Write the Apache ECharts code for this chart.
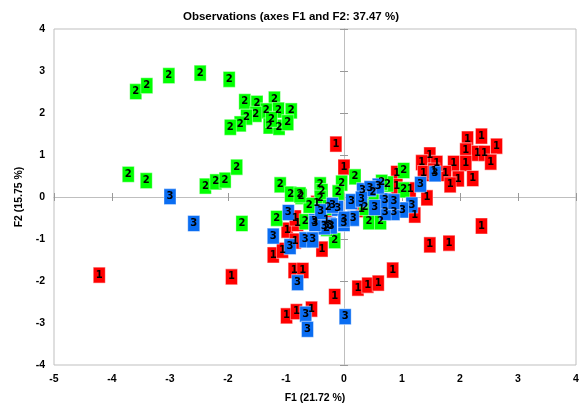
<!DOCTYPE html>
<html><head><meta charset="utf-8">
<script src="https://cdn.jsdelivr.net/npm/echarts@6/dist/echarts.min.js"></script>
<style>html,body{margin:0;padding:0;background:#fff}#c{width:582px;height:409px}</style>
</head><body><div id="c"></div>
<script>
// Class 1 (red) observations [F1, F2]
const class1 = [
  [-4.22,-1.86],[-1.94,-1.90],[-1.22,-1.38],[-1.06,-1.27],[-0.98,-0.79],[-0.80,-0.63],
  [-0.84,-1.05],[-0.38,-1.24],[-0.86,-1.75],[-0.71,-1.75],[-0.16,-2.37],[-0.99,-2.83],
  [-0.82,-2.73],[-0.56,-2.67],[-0.14,1.26],[0.0,0.71],[0.91,0.56],[0.91,0.25],[1.14,0.17],
  [2.13,1.38],[2.37,1.45],[2.63,1.21],[2.10,1.10],[2.30,1.04],[2.42,1.04],[2.53,0.83],
  [1.48,1.00],[1.34,0.82],[1.89,0.80],[2.10,0.80],[1.75,0.56],[1.97,0.43],[2.22,0.44],
  [1.83,0.29],[1.37,0.56],[1.43,-0.02],[2.37,-0.69],[1.48,-1.14],[1.81,-1.10],
  [-0.47,-0.15],[-0.84,-0.50],[0.24,-2.17],[0.41,-2.10],[0.59,-2.05],[0.84,-1.74],
  [1.22,-0.43],[1.60,0.80],[1.55,0.62],[0.30,-0.30],[-0.30,-0.55]
];
// Class 2 (green) observations
const class2 = [
  [-3.59,2.51],[-3.40,2.65],[-3.02,2.89],[-2.48,2.95],[-1.98,2.80],[-1.71,2.27],[-1.50,2.23],
  [-1.20,2.33],[-1.34,2.05],[-1.13,2.07],[-0.91,2.05],[-1.52,1.97],[-1.68,1.90],[-1.79,1.74],
  [-1.96,1.66],[-1.29,1.69],[-1.12,1.66],[-0.97,1.77],[-1.25,1.85],
  [-3.72,0.54],[-3.41,0.39],[-2.39,0.26],[-2.21,0.36],[-2.05,0.40],[-1.85,0.71],
  [-1.10,0.29],[-0.92,0.07],[-0.74,0.01],[-1.76,-0.63],[-1.16,-0.51],
  [-0.41,0.29],[-0.38,0.13],[-0.41,-0.03],[-0.04,0.33],[0.19,0.48],[-0.10,0.10],
  [1.03,0.63],[1.03,0.17],[0.75,0.31],[0.43,-0.59],[0.63,-0.59],[0.36,-0.25],
  [-0.27,-0.25],[-0.16,-1.04],[-0.67,-0.59],[0.50,0.10],[0.65,0.35],[-0.60,-0.20],
  [-0.30,-0.75],[-0.76,0.05]
];
// Class 3 (blue) observations
const class3 = [
  [-3.0,0.01],[-2.59,-0.63],[-1.22,-0.93],[-0.93,-1.18],[-0.96,-0.37],[-0.67,-1.02],
  [-0.54,-1.02],[-0.51,-0.59],[-0.24,-0.67],[-0.11,-0.27],[0.0,-0.63],[-0.80,-2.04],
  [-0.66,-2.79],[-0.63,-3.15],[0.02,-2.85],[1.57,0.55],[1.32,0.30],[1.17,-0.19],
  [1.01,-0.31],[0.86,-0.37],[0.71,-0.37],[0.71,-0.09],[0.86,-0.11],[0.32,0.15],
  [0.59,0.26],[0.45,0.20],[0.53,-0.25],[0.16,-0.51],[0.13,-0.11],[0.0,-0.53],
  [-0.22,-0.69],[-0.34,-0.71],[-0.50,-0.63],[-0.40,-0.35],[-0.20,-0.20],[0.30,-0.05]
];
const classNames = ['1','2','3'];
const classColors = ['#ff0000','#00ff00','#0a6df2'];
const xTicks = [-5,-4,-3,-2,-1,0,1,2,3,4];
const yTicks = [-4,-3,-2,-1,0,1,2,3,4];

const FONT = 'Liberation Sans';
const lineColor = '#bfbfbf';
const xr = {min: xTicks[0], max: xTicks[xTicks.length-1], interval: 1};
const yr = {min: yTicks[0], max: yTicks[yTicks.length-1], interval: 1};

function zeroX(pos){
  return Object.assign({type:'value', position:pos, axisLine:{show:true, onZero:true, onZeroAxisIndex:0, lineStyle:{color:lineColor}},
    axisTick:{show:true, inside:true, length:4, lineStyle:{color:'#999'}}, axisLabel:{show:false}, splitLine:{show:false}}, xr);
}
function zeroY(pos){
  return Object.assign({type:'value', position:pos, axisLine:{show:true, onZero:true, onZeroAxisIndex:0, lineStyle:{color:lineColor}},
    axisTick:{show:true, inside:true, length:4, lineStyle:{color:'#999'}}, axisLabel:{show:false}, splitLine:{show:false}}, yr);
}

const chart = echarts.init(document.getElementById('c'), null, {renderer:'canvas'});
const data = [class1, class2, class3];
chart.setOption({
  animation:false,
  title:{text:'Observations (axes F1 and F2: 37.47 %)', left:'center', top:6,
    textStyle:{fontFamily:FONT, fontSize:11.5, fontWeight:'bold', color:'#000'}},
  grid:{left:54, right:6, top:29, bottom:43, show:true, borderColor:lineColor, borderWidth:1, backgroundColor:'transparent'},
  xAxis:[
    Object.assign({type:'value', position:'bottom', name:'F1 (21.72 %)', nameLocation:'middle', nameGap:28,
      nameTextStyle:{fontFamily:FONT, fontSize:10.5, fontWeight:'bold', color:'#000'},
      axisLine:{show:false, onZero:false}, axisTick:{show:false},
      axisLabel:{fontFamily:FONT, fontSize:10.5, fontWeight:'bold', color:'#000', margin:9},
      splitLine:{show:false}}, xr),
    zeroX('bottom'), zeroX('top')
  ],
  yAxis:[
    Object.assign({type:'value', position:'left', name:'F2 (15.75 %)', nameLocation:'middle', nameGap:28,
      nameTextStyle:{fontFamily:FONT, fontSize:10.5, fontWeight:'bold', color:'#000'},
      axisLine:{show:false, onZero:false}, axisTick:{show:false},
      axisLabel:{fontFamily:FONT, fontSize:10.5, fontWeight:'bold', color:'#000', margin:9},
      splitLine:{show:false}}, yr),
    zeroY('left'), zeroY('right')
  ],
  series: data.map((d,i)=>({
    type:'scatter', name:classNames[i], xAxisIndex:0, yAxisIndex:0, data:d,
    symbol:'rect', symbolSize:[12,16],
    itemStyle:{color:classColors[i], borderColor:'rgba(255,255,255,0.45)', borderWidth:1, opacity:1},
    label:{show:true, position:'inside', formatter:classNames[i], fontFamily:'DejaVu Sans', fontSize:10, fontWeight:'bold', color:'#000'},
    emphasis:{disabled:true}
  }))
});
</script></body></html>
